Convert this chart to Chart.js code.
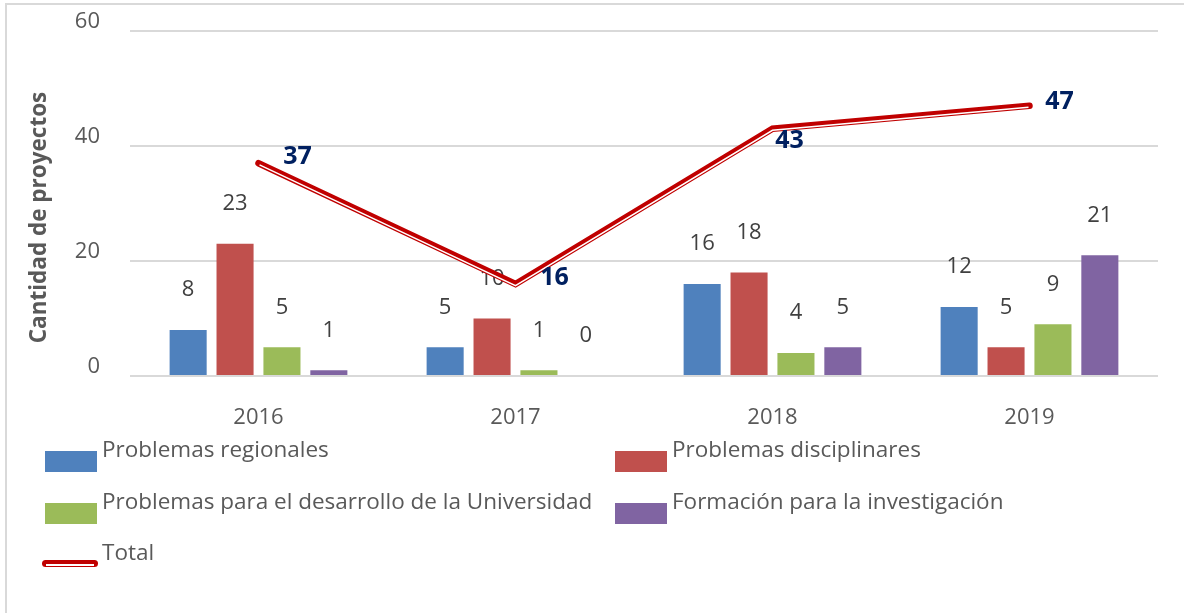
<!DOCTYPE html>
<html>
<head>
<meta charset="utf-8">
<script src="https://cdn.jsdelivr.net/npm/chart.js@4.4.1/dist/chart.umd.min.js"></script>
<style>
  html, body { margin: 0; padding: 0; background: #fff; }
  body { width: 1184px; height: 613px; position: relative; overflow: hidden; font-family: "Open Sans", "Noto Sans", sans-serif; }
  #frame { position: absolute; left: 5px; top: 3px; right: -10px; bottom: -10px; border-top: 2px solid #d9d9d9; border-left: 2px solid #d9d9d9; }
  #wrap { position: absolute; left: 0; top: 0; width: 1184px; height: 430px; }
  #legend { position: absolute; left: 0; top: 0; width: 1184px; height: 613px; pointer-events: none; }
  .item { position: absolute; font-size: 22.5px; color: #595959; white-space: nowrap; line-height: 26px; }
  .box { position: absolute; width: 52px; height: 21px; }
  .lineSym { position: absolute; width: 56px; height: 7px; border-radius: 4px; background: #C00000; }
  .lineSym::after { content: ""; position: absolute; left: 4px; right: 4px; top: 4px; height: 1.5px; background: #fff; }
</style>
</head>
<body>
<div id="frame"></div>
<div id="wrap"><canvas id="c" width="1184" height="430"></canvas></div>
<div id="legend"></div>
<script>
const categories = ["2016", "2017", "2018", "2019"];
const regionales = [8, 5, 16, 12];
const disciplinares = [23, 10, 18, 5];
const desarrollo = [5, 1, 4, 9];
const formacion = [1, 0, 5, 21];
const total = [37, 16, 43, 47];
const yTicks = [0, 20, 40, 60];
const yTitle = "Cantidad de proyectos";
const seriesNames = ["Problemas regionales", "Problemas disciplinares", "Problemas para el desarrollo de la Universidad", "Formación para la investigación", "Total"];

const FONT = '"Open Sans", "Noto Sans", sans-serif';
const barColors = ["#4F81BD", "#C0504D", "#9BBB59", "#8064A2"];
const lineColor = "#C00000";

// per-index offsets for the Total labels (styling only)
const totalLabelOffsets = [[39, -6], [39, -6], [17, 12], [30, -4]];

const labelsPlugin = {
  id: 'labels',
  afterDatasetDraw(chart, args) {
    const meta = args.meta;
    const ctx = chart.ctx;
    const ds = chart.data.datasets[args.index];
    if (meta.type === 'bar') {
      ctx.save();
      ctx.font = '22px ' + FONT;
      ctx.fillStyle = '#404040';
      ctx.textAlign = 'center';
      ctx.textBaseline = 'middle';
      meta.data.forEach((el, i) => {
        ctx.fillText(String(ds.data[i]), el.x, el.y - 40);
      });
      ctx.restore();
    } else if (meta.type === 'line') {
      // white inner stripe of the double line
      ctx.save();
      ctx.strokeStyle = '#ffffff';
      ctx.lineWidth = 1.5;
      ctx.lineJoin = 'miter';
      ctx.beginPath();
      meta.data.forEach((el, i) => {
        if (i === 0) ctx.moveTo(el.x + 1, el.y + 1.6);
        else ctx.lineTo(el.x + (i === meta.data.length - 1 ? -1 : 0), el.y + 1.6);
      });
      ctx.stroke();
      // labels
      ctx.font = 'bold 25px ' + FONT;
      ctx.fillStyle = '#002060';
      ctx.textAlign = 'center';
      ctx.textBaseline = 'middle';
      meta.data.forEach((el, i) => {
        const o = totalLabelOffsets[i];
        ctx.fillText(String(ds.data[i]), el.x + o[0], el.y + o[1]);
      });
      ctx.restore();
    }
  },
  afterDraw(chart) {
    const ctx = chart.ctx;
    const a = chart.chartArea;
    ctx.save();
    ctx.translate(40, (a.top + a.bottom) / 2 + 14);
    ctx.rotate(-Math.PI / 2);
    ctx.font = 'bold 22.5px ' + FONT;
    ctx.fillStyle = '#595959';
    ctx.textAlign = 'center';
    ctx.textBaseline = 'middle';
    ctx.fillText(yTitle, 0, 0);
    ctx.restore();
  }
};

const chart = new Chart(document.getElementById('c'), {
  data: {
    labels: categories,
    datasets: [
      { type: 'line', label: seriesNames[4], data: total, borderColor: lineColor, borderWidth: 6.5,
        pointRadius: 0, borderCapStyle: 'round', borderJoinStyle: 'miter', tension: 0, order: 0 },
      { type: 'bar', label: seriesNames[0], data: regionales, backgroundColor: barColors[0], order: 1 },
      { type: 'bar', label: seriesNames[1], data: disciplinares, backgroundColor: barColors[1], order: 1 },
      { type: 'bar', label: seriesNames[2], data: desarrollo, backgroundColor: barColors[2], order: 1 },
      { type: 'bar', label: seriesNames[3], data: formacion, backgroundColor: barColors[3], order: 1 }
    ]
  },
  options: {
    responsive: false,
    animation: false,
    events: [],
    layout: { padding: { top: 31, right: 26, left: 0, bottom: 0 } },
    datasets: { bar: { categoryPercentage: 0.73, barPercentage: 0.79 } },
    plugins: { legend: { display: false }, tooltip: { enabled: false } },
    scales: {
      x: {
        offset: true,
        grid: { display: false },
        border: { display: false },
        ticks: { font: { family: FONT, size: 22 }, color: '#595959', padding: 21 },
        afterFit(s) { s.height = 54; s.paddingLeft = 0; s.paddingRight = 0; }
      },
      y: {
        min: 0, max: 60,
        afterBuildTicks(s) { s.ticks = yTicks.map(v => ({ value: v })); },
        grid: { color: '#d9d9d9', lineWidth: 2, drawTicks: false },
        border: { display: false },
        ticks: {
          font: { family: FONT, size: 22, lineHeight: 0.82 }, color: '#595959', padding: 30,
          callback: v => [String(v), '']
        },
        title: { display: false },
        afterFit(s) { s.width = 130; s.paddingTop = 0; s.paddingBottom = 0; }
      }
    }
  },
  plugins: [labelsPlugin]
});

// legend (built from the chart's datasets)
const legend = document.getElementById('legend');
const legendPos = {
  [seriesNames[0]]: [45, 436], [seriesNames[1]]: [615, 436],
  [seriesNames[2]]: [45, 488], [seriesNames[3]]: [615, 488],
  [seriesNames[4]]: [45, 539]
};
chart.data.datasets.forEach(ds => {
  const p = legendPos[ds.label];
  const it = document.createElement('div');
  it.className = 'item';
  it.style.left = (p[0] + 57) + 'px';
  it.style.top = p[1] + 'px';
  it.textContent = ds.label;
  legend.appendChild(it);
  const sym = document.createElement('div');
  if (ds.type === 'bar') {
    sym.className = 'box';
    sym.style.background = ds.backgroundColor;
    sym.style.left = p[0] + 'px';
    sym.style.top = (p[1] + 15) + 'px';
  } else {
    sym.className = 'lineSym';
    sym.style.left = (p[0] - 3) + 'px';
    sym.style.top = (p[1] + 21) + 'px';
  }
  legend.appendChild(sym);
});
</script>
</body>
</html>
